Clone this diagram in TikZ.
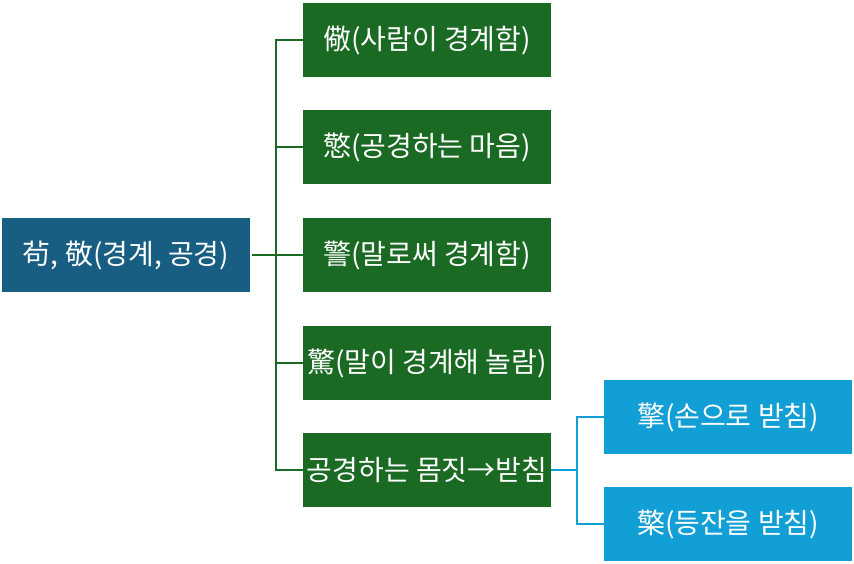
\documentclass[tikz,border=0pt]{standalone}
\usepackage{fontspec}
\setmainfont{Noto Sans CJK KR}
\definecolor{rootc}{RGB}{23,94,130}
\definecolor{gnode}{RGB}{27,106,36}
\definecolor{bnode}{RGB}{18,159,214}
\tikzset{
  box/.style={minimum width=248pt, minimum height=74pt, inner sep=0pt, text=white, font=\fontsize{28}{32}\selectfont},
  rootbox/.style={box, fill=rootc},
  gbox/.style={box, fill=gnode},
  bbox/.style={box, fill=bnode},
  gline/.style={draw=gnode, line width=1.6pt},
  bline/.style={draw=bnode, line width=1.6pt}
}
\begin{document}
\begin{tikzpicture}[x=1pt,y=-1pt]
\useasboundingbox (0,0) rectangle (854,564);
\node[rootbox] (r) at (126,255) {茍, 敬(경계, 공경)};
\node[gbox] (g1) at (427,40) {儆(사람이 경계함)};
\node[gbox] (g2) at (427,147) {憼(공경하는 마음)};
\node[gbox] (g3) at (427,255) {警(말로써 경계함)};
\node[gbox] (g4) at (427,363) {驚(말이 경계해 놀람)};
\node[gbox] (g5) at (427,470) {공경하는 몸짓→받침};
\node[bbox] (b1) at (728,417) {擎(손으로 받침)};
\node[bbox] (b2) at (728,524) {檠(등잔을 받침)};
\coordinate (j) at (276,255);
\coordinate (k) at (577,470);
\draw[gline] ([xshift=2pt]r.east) -- (j);
\foreach \n in {g1,g2,g3,g4,g5} \draw[gline] (j) |- (\n.west);
\draw[bline] (g5.east) -- (k);
\foreach \n in {b1,b2} \draw[bline] (k) |- (\n.west);
\end{tikzpicture}
\end{document}
